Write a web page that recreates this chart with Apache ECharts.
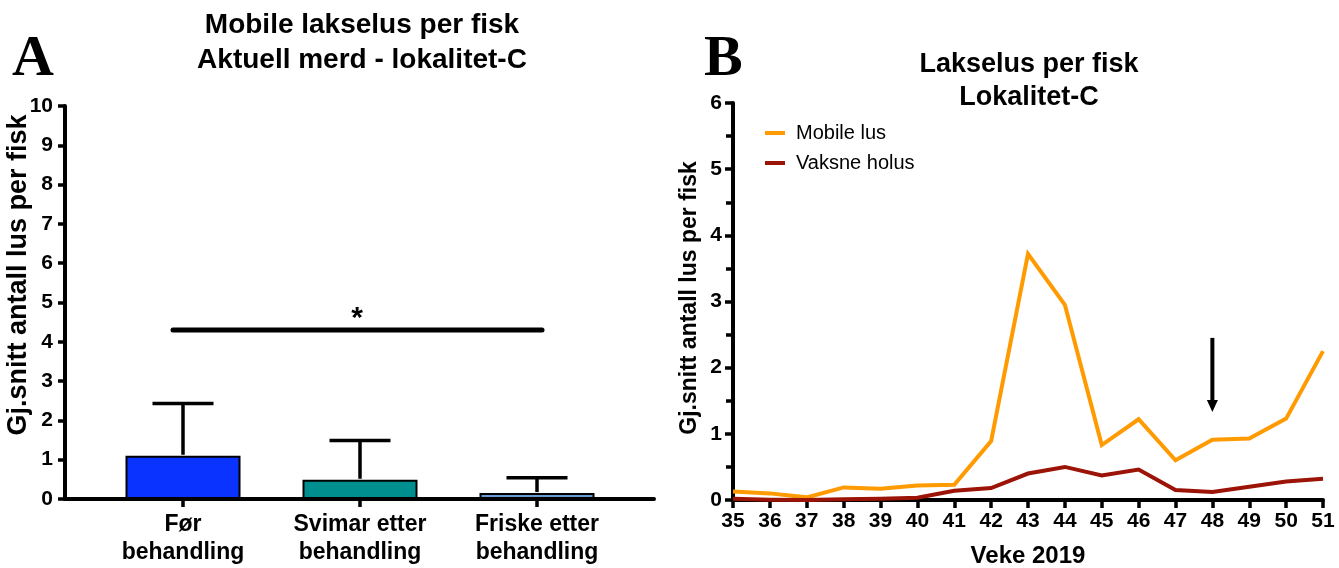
<!DOCTYPE html>
<html>
<head>
<meta charset="utf-8">
<script src="https://cdn.jsdelivr.net/npm/echarts@6/dist/echarts.min.js"></script>
<style>
html,body{margin:0;padding:0;background:#fff;}
#c{width:1339px;height:568px;}
</style>
</head>
<body>
<div id="c"></div>
<script>
// ---- Panel A data ----
const catA = ['Før\nbehandling', 'Svimar etter\nbehandling', 'Friske etter\nbehandling'];
const meanA = [1.1, 0.49, 0.15];
const upperA = [2.43, 1.49, 0.54];
const colorsA = ['#0A33FF', '#008F8F', '#6A9BD1'];
const sigFrom = 0, sigTo = 2, sigLevel = 4.3, sigLabel = '*';
const yTicksA = [0, 10, 1];

// ---- Panel B data ----
const weeks = ['35','36','37','38','39','40','41','42','43','44','45','46','47','48','49','50','51'];
const mobileLus = [0.13, 0.10, 0.04, 0.19, 0.17, 0.22, 0.23, 0.89, 3.72, 2.95, 0.83, 1.22, 0.60, 0.91, 0.93, 1.23, 2.25];
const vaksneHolus = [0.02, 0.005, 0.0, 0.01, 0.02, 0.035, 0.14, 0.18, 0.40, 0.50, 0.37, 0.46, 0.15, 0.12, 0.20, 0.28, 0.32];
const arrowWeek = '48', arrowFrom = 2.45, arrowTo = 1.33;

const FF = 'Liberation Sans, Arial, Helvetica, sans-serif';
const black = '#000';

const chart = echarts.init(document.getElementById('c'), null, {renderer: 'canvas'});

const option = {
  animation: false,
  backgroundColor: '#fff',
  title: [
    {text: 'Mobile lakselus per fisk\nAktuell merd - lokalitet-C', left: 357, top: 3, textAlign: 'center',
     textStyle: {fontFamily: FF, fontWeight: 'bold', fontSize: 28, lineHeight: 35, color: black}},
    {text: 'Lakselus per fisk\nLokalitet-C', left: 1024, top: 43, textAlign: 'center',
     textStyle: {fontFamily: FF, fontWeight: 'bold', fontSize: 27, lineHeight: 33, color: black}},
    {text: 'A', left: 7, top: 26, textStyle: {fontFamily: 'Liberation Serif, Times New Roman, serif', fontWeight: 'bold', fontSize: 58, color: black}},
    {text: 'B', left: 699, top: 26, textStyle: {fontFamily: 'Liberation Serif, Times New Roman, serif', fontWeight: 'bold', fontSize: 58, color: black}}
  ],
  legend: {
    data: ['Mobile lus', 'Vaksne holus'],
    orient: 'vertical', left: 760, top: 118, itemGap: 10,
    icon: 'rect', itemWidth: 20, itemHeight: 4,
    textStyle: {fontFamily: FF, fontSize: 20, color: black, padding: [0, 0, 0, 6]}
  },
  graphic: [
    {type: 'text', x: 19, y: 275, rotation: Math.PI / 2,
     style: {text: 'Gj.snitt antall lus per fisk', font: 'bold 27px ' + FF, fill: black, textAlign: 'center', textVerticalAlign: 'middle'}},
    {type: 'text', x: 690, y: 298, rotation: Math.PI / 2,
     style: {text: 'Gj.snitt antall lus per fisk', font: 'bold 23px ' + FF, fill: black, textAlign: 'center', textVerticalAlign: 'middle'}}
  ],
  grid: [
    {left: 94.5, right: 713.5, top: 106, bottom: 69, outerBoundsMode: 'none', containLabel: false},
    {left: 65, right: 685, top: 106, bottom: 69, outerBoundsMode: 'none', containLabel: false},
    {left: 733, right: 16, top: 103, bottom: 68, outerBoundsMode: 'none', containLabel: false}
  ],
  xAxis: [
    {type: 'category', gridIndex: 0, data: catA,
     axisLine: {show: false},
     axisTick: {show: true, alignWithLabel: true, length: 8, lineStyle: {color: black, width: 3.5}},
     axisLabel: {fontFamily: FF, fontWeight: 'bold', fontSize: 23, color: black, margin: 12, lineHeight: 28},
     splitLine: {show: false}},
    {type: 'value', gridIndex: 1, min: 0, max: 1,
     axisLine: {show: true, lineStyle: {color: black, width: 4}},
     axisTick: {show: false}, axisLabel: {show: false}, splitLine: {show: false}},
    {type: 'category', gridIndex: 2, data: weeks, boundaryGap: false,
     axisLine: {show: true, lineStyle: {color: black, width: 4}},
     axisTick: {show: true, interval: 0, length: 8, lineStyle: {color: black, width: 3.5}},
     axisLabel: {interval: 0, fontFamily: FF, fontWeight: 'bold', fontSize: 21, color: black, margin: 11},
     name: 'Veke 2019', nameLocation: 'middle', nameGap: 44,
     nameTextStyle: {fontFamily: FF, fontWeight: 'bold', fontSize: 24, color: black},
     splitLine: {show: false}}
  ],
  yAxis: [
    {type: 'value', gridIndex: 0, min: yTicksA[0], max: yTicksA[1], interval: yTicksA[2], offset: 29.5,
     axisLine: {show: true, lineStyle: {color: black, width: 4}},
     axisTick: {show: true, length: 7, lineStyle: {color: black, width: 3.5}},
     axisLabel: {fontFamily: FF, fontWeight: 'bold', fontSize: 21, color: black, margin: 12},
     splitLine: {show: false}},
    {type: 'value', gridIndex: 1, show: false, min: 0, max: 10},
    {type: 'value', gridIndex: 2, min: 0, max: 6, interval: 1,
     axisLine: {show: true, lineStyle: {color: black, width: 4}},
     axisTick: {show: true, length: 8, lineStyle: {color: black, width: 3.5}},
     minorTick: {show: true, splitNumber: 2, length: 7, lineStyle: {color: black, width: 3.5}},
     axisLabel: {fontFamily: FF, fontWeight: 'bold', fontSize: 21, color: black, margin: 11},
     splitLine: {show: false}, minorSplitLine: {show: false}}
  ],
  series: [
    {type: 'bar', xAxisIndex: 0, yAxisIndex: 0, barWidth: 115,
     data: meanA.map((v, i) => ({value: v, itemStyle: {color: colorsA[i]}})),
     itemStyle: {borderColor: black, borderWidth: 2}, z: 2},
    {type: 'custom', xAxisIndex: 0, yAxisIndex: 0, z: 3,
     data: meanA.map((m, i) => [i, m, upperA[i]]),
     encode: {x: 0, y: [1, 2]},
     renderItem: function (params, api) {
       const p0 = api.coord([api.value(0), api.value(1)]);
       const p1 = api.coord([api.value(0), api.value(2)]);
       const st = {stroke: black, lineWidth: 3.5};
       return {type: 'group', children: [
         {type: 'line', shape: {x1: p0[0], y1: p0[1] - 1, x2: p1[0], y2: p1[1]}, style: st},
         {type: 'line', shape: {x1: p1[0] - 30.5, y1: p1[1], x2: p1[0] + 30.5, y2: p1[1]}, style: st}
       ]};
     }},
    {type: 'custom', xAxisIndex: 0, yAxisIndex: 0, z: 3,
     data: [[sigFrom, sigTo, sigLevel]],
     encode: {x: [0, 1], y: 2},
     renderItem: function (params, api) {
       const a = api.coord([api.value(0), api.value(2)]);
       const b = api.coord([api.value(1), api.value(2)]);
       return {type: 'group', children: [
         {type: 'line', shape: {x1: a[0] - 10, y1: a[1], x2: b[0] + 5, y2: b[1]},
          style: {stroke: black, lineWidth: 5, lineCap: 'round'}},
         {type: 'text', x: (a[0] + b[0]) / 2 - 3, y: a[1] - 11,
          style: {text: sigLabel, font: 'bold 30px ' + FF, fill: black, textAlign: 'center', textVerticalAlign: 'middle'}}
       ]};
     }},
    {name: 'Mobile lus', type: 'line', xAxisIndex: 2, yAxisIndex: 2, data: mobileLus,
     symbol: 'none', color: '#FF9A00',
     lineStyle: {color: '#FF9A00', width: 4, join: 'miter'}, z: 3},
    {name: 'Vaksne holus', type: 'line', xAxisIndex: 2, yAxisIndex: 2, data: vaksneHolus,
     symbol: 'none', color: '#9B1407',
     lineStyle: {color: '#9B1407', width: 4, join: 'miter'}, z: 4},
    {type: 'custom', xAxisIndex: 2, yAxisIndex: 2, z: 5,
     data: [[arrowWeek, arrowFrom, arrowTo]],
     encode: {x: 0, y: [1, 2]},
     renderItem: function (params, api) {
       const p0 = api.coord([api.value(0), api.value(1)]);
       const p1 = api.coord([api.value(0), api.value(2)]);
       const headH = 12, headW = 5.5;
       return {type: 'group', children: [
         {type: 'line', shape: {x1: p0[0], y1: p0[1], x2: p1[0], y2: p1[1] - headH + 1},
          style: {stroke: black, lineWidth: 4}},
         {type: 'polygon', shape: {points: [[p1[0] - headW, p1[1] - headH], [p1[0] + headW, p1[1] - headH], [p1[0], p1[1]]]},
          style: {fill: black}}
       ]};
     }}
  ]
};
chart.setOption(option);
</script>
</body>
</html>
